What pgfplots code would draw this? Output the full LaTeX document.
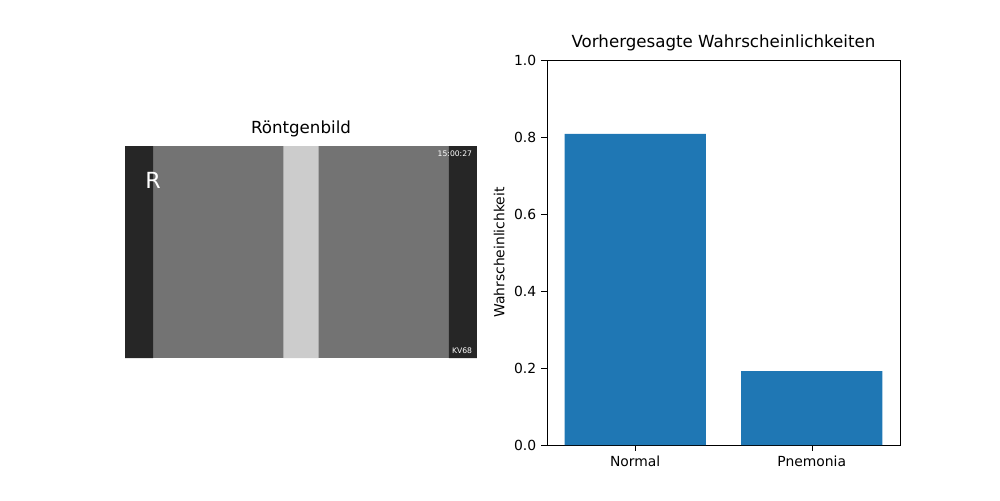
\documentclass[border=0pt]{standalone}
\usepackage{pgfplots}
\pgfplotsset{compat=1.18}
\usepackage{fontspec}
\setmainfont{DejaVu Sans}
\definecolor{mplblue}{HTML}{1F77B4}
\begin{document}
\begin{tikzpicture}
\useasboundingbox (0pt,0pt) rectangle (720pt,360pt);
% left: image placeholder
\begin{axis}[at={(90pt,102.2pt)},anchor=south west,scale only axis,
  width=253.4pt,height=152.6pt,xmin=0,xmax=1,ymin=0,ymax=1,
  hide axis,axis background/.style={fill=black!55},
  title={Röntgenbild},title style={font=\fontsize{12}{14}\selectfont,yshift=-3pt}]
\addplot[draw=none,fill=black!85] coordinates {(0,0) (0.08,0) (0.08,1) (0,1)} \closedcycle;
\addplot[draw=none,fill=black!85] coordinates {(0.92,0) (1,0) (1,1) (0.92,1)} \closedcycle;
\addplot[draw=none,fill=black!20] coordinates {(0.45,0) (0.55,0) (0.55,1) (0.45,1)} \closedcycle;
\node[white,font=\fontsize{16}{18}\selectfont] at (axis cs:0.08,0.84) {R};
\node[white,font=\fontsize{5.5}{6}\selectfont,anchor=north east] at (axis cs:1,1) {15:00:27};
\node[white,font=\fontsize{5.5}{6}\selectfont,anchor=south east] at (axis cs:1,0) {KV68};
\end{axis}
% right: bar chart
\begin{axis}[at={(393.8pt,39.6pt)},anchor=south west,scale only axis,
  width=254.2pt,height=277.2pt,
  xmin=-0.5,xmax=1.5,ymin=0,ymax=1,
  xtick={0,1},xticklabels={Normal,Pnemonia},
  ytick={0,0.2,0.4,0.6,0.8,1.0},
  yticklabel style={/pgf/number format/fixed,/pgf/number format/fixed zerofill,/pgf/number format/precision=1},
  /pgf/number format/assume math mode=true,
  tick style={black},tick align=outside,
  xtick pos=bottom,ytick pos=left,
  ticklabel style={font=\fontsize{10}{12}\selectfont},
  ylabel={Wahrscheinlichkeit},ylabel style={font=\fontsize{10}{12}\selectfont},
  title={Vorhergesagte Wahrscheinlichkeiten},title style={font=\fontsize{12}{14}\selectfont,yshift=-3pt}]
\addplot[ybar,bar width=0.8,bar shift=0pt,fill=mplblue,draw=none] coordinates {(0,0.808) (1,0.192)};
\end{axis}
\end{tikzpicture}
\end{document}
